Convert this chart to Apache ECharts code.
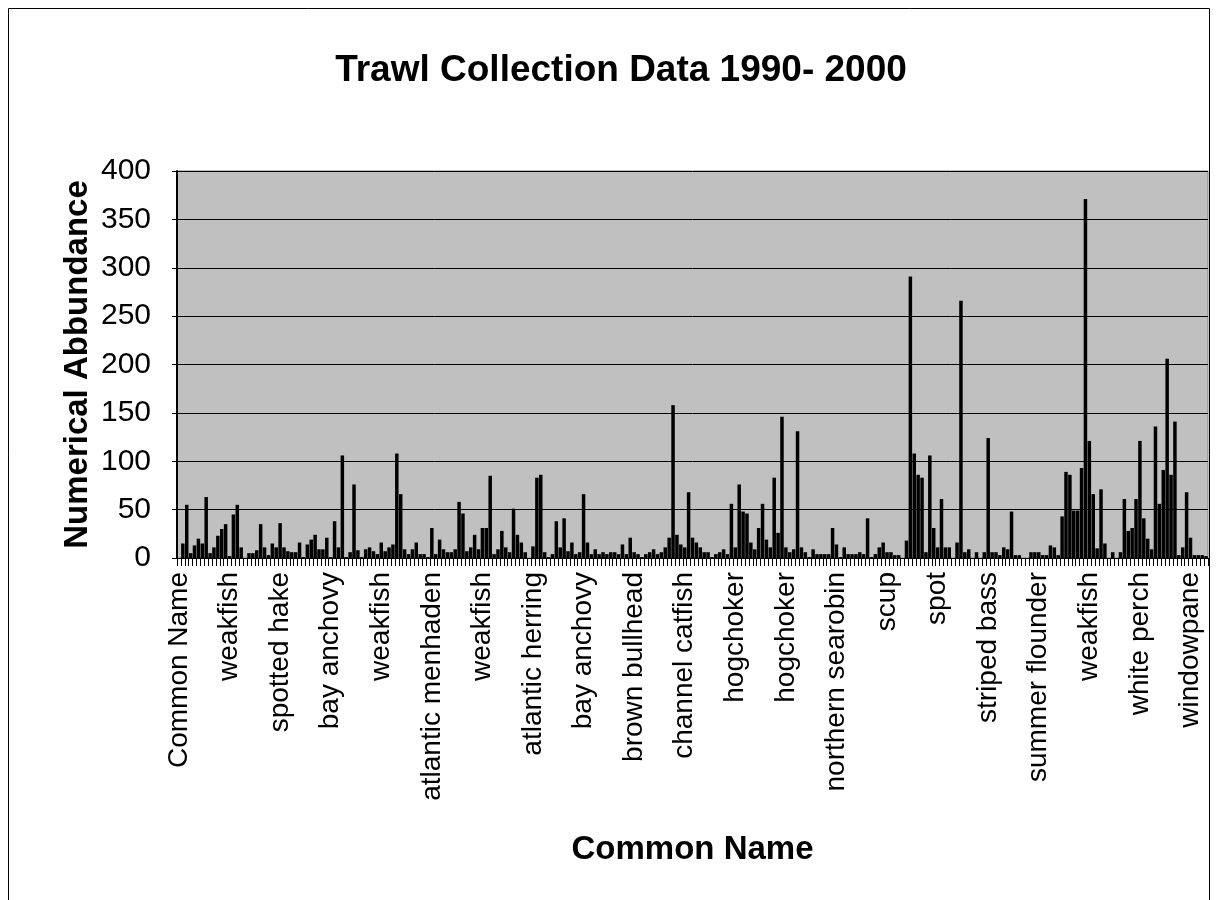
<!DOCTYPE html>
<html>
<head>
<meta charset="utf-8">
<title>Trawl Collection Data 1990- 2000</title>
<script src="https://cdn.jsdelivr.net/npm/echarts@6.0.0/dist/echarts.min.js"></script>
<style>
  html, body { margin: 0; padding: 0; background: #fff; }
  #main { width: 1218px; height: 900px; }
</style>
</head>
<body>
<div id="main"></div>
<script>
// axis labels only appear on every 13th row
var labelNames = ["Common Name", "weakfish", "spotted hake", "bay anchovy", "weakfish",
  "atlantic menhaden", "weakfish", "atlantic herring", "bay anchovy", "brown bullhead",
  "channel catfish", "hogchoker", "hogchoker", "northern searobin", "scup", "spot",
  "striped bass", "summer flounder", "weakfish", "white perch", "windowpane"];
var labelEvery = 13;

// one row per line, 13 rows per labelled group
var abundance = [
  0, 15, 55, 5, 13, 20, 15, 63, 5, 11, 23, 30, 35,
  2, 45, 55, 11, 0, 5, 5, 8, 35, 11, 3, 15, 11,
  36, 11, 7, 6, 6, 16, 1, 14, 19, 24, 9, 9, 21,
  1, 38, 11, 106, 1, 6, 76, 8, 1, 9, 11, 7, 4,
  16, 7, 11, 14, 108, 66, 9, 4, 9, 16, 4, 4, 1,
  31, 4, 19, 9, 6, 6, 9, 58, 46, 7, 11, 24, 9,
  31, 31, 85, 4, 9, 28, 11, 6, 51, 24, 16, 6, 0,
  12, 83, 86, 6, 1, 4, 38, 11, 41, 7, 16, 4, 6,
  66, 16, 4, 9, 4, 6, 4, 6, 6, 4, 14, 4, 21,
  6, 4, 1, 4, 6, 9, 4, 6, 11, 21, 158, 24, 14,
  11, 68, 21, 16, 11, 6, 6, 1, 4, 6, 9, 4, 56,
  11, 76, 48, 46, 16, 9, 31, 56, 19, 11, 83, 26, 146,
  11, 6, 9, 131, 11, 6, 1, 9, 4, 4, 4, 4, 31,
  14, 1, 11, 4, 4, 4, 6, 4, 41, 1, 4, 11, 16,
  6, 6, 3, 3, 0, 18, 291, 108, 86, 83, 6, 106, 31,
  11, 61, 11, 11, 0, 16, 266, 6, 9, 0, 6, 0, 6,
  124, 6, 6, 3, 11, 9, 48, 3, 3, 0, 0, 6, 6,
  6, 3, 3, 13, 11, 3, 43, 89, 86, 49, 49, 93, 371,
  121, 66, 10, 71, 15, 0, 6, 0, 6, 61, 28, 31, 61,
  121, 41, 20, 9, 136, 56, 91, 206, 86, 141, 3, 11, 68,
  21, 3, 3, 3, 2
];

var yMin = 0, yMax = 400, yStep = 50;

var categories = abundance.map(function (v, i) {
  return i % labelEvery === 0 ? labelNames[i / labelEvery] : "";
});

var font = "'Liberation Sans', Arial, sans-serif";
var chart = echarts.init(document.getElementById("main"));

chart.setOption({
  animation: false,
  backgroundColor: "#fff",
  graphic: [
    {
      type: "rect",
      shape: { x: 8.5, y: 8.5, width: 1201, height: 900 },
      style: { fill: "none", stroke: "#000", lineWidth: 1 },
      silent: true
    },
    {
      type: "text",
      x: 621,
      y: 71,
      style: {
        text: "Trawl Collection Data 1990- 2000",
        font: "bold 37px " + font,
        fill: "#000",
        textAlign: "center",
        textVerticalAlign: "middle"
      }
    }
  ],
  grid: {
    left: 177,
    top: 171,
    width: 1031,
    height: 387,
    show: true,
    backgroundColor: "#c0c0c0",
    borderColor: "#808080",
    borderWidth: 1
  },
  xAxis: {
    type: "category",
    data: categories,
    name: "Common Name",
    nameLocation: "middle",
    nameGap: 275,
    nameMoveOverlap: false,
    nameTextStyle: { fontFamily: font, fontSize: 33, fontWeight: "bold", color: "#000" },
    axisLine: { lineStyle: { color: "#000", width: 1 } },
    axisTick: { show: true, interval: 0, length: 8, lineStyle: { color: "#000" } },
    axisLabel: {
      interval: labelEvery - 1,
      rotate: 90,
      margin: 14,
      fontFamily: font,
      fontSize: 28,
      color: "#000"
    }
  },
  yAxis: {
    type: "value",
    min: yMin,
    max: yMax,
    interval: yStep,
    name: "Numerical Abbundance",
    nameLocation: "middle",
    nameGap: 83,
    nameMoveOverlap: false,
    nameTextStyle: { fontFamily: font, fontSize: 33, fontWeight: "bold", color: "#000" },
    axisLine: { show: true, lineStyle: { color: "#000", width: 2 } },
    axisTick: { show: true, length: 5, lineStyle: { color: "#000" } },
    axisLabel: { margin: 26, fontFamily: font, fontSize: 30, color: "#000" },
    splitLine: { lineStyle: { color: "#000", width: 1 } }
  },
  series: [
    {
      type: "bar",
      data: abundance,
      barCategoryGap: "10%",
      itemStyle: { color: "#000" }
    }
  ]
});
</script>
</body>
</html>
